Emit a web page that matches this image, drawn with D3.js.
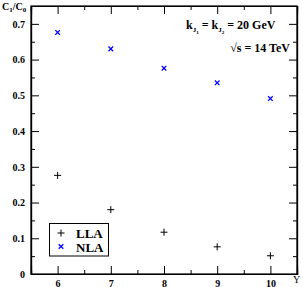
<!DOCTYPE html>
<html>
<head>
<meta charset="utf-8">
<script src="https://cdn.jsdelivr.net/npm/d3@7"></script>
<style>
  body { margin: 0; background: #fff; }
  text { font-family: "Liberation Serif", "DejaVu Serif", serif; font-weight: bold; }
</style>
</head>
<body>
<div id="chart"></div>
<script>
// dữ liệu
const rapidity = [6, 7, 8, 9, 10];
const llaValues = [0.276, 0.180, 0.117, 0.076, 0.051];
const nlaValues = [0.676, 0.630, 0.576, 0.535, 0.491];
const xTickLabels = [6, 7, 8, 9, 10];
const yTickLabels = [0, 0.1, 0.2, 0.3, 0.4, 0.5, 0.6, 0.7];

const W = 303, H = 287;
const margin = { top: 6, right: 6, bottom: 13, left: 31 };
const width = W - margin.left - margin.right;
const height = H - margin.top - margin.bottom;

const svg = d3.select("#chart").append("svg")
    .attr("width", W)
    .attr("height", H);

const g = svg.append("g")
    .attr("transform", `translate(${margin.left},${margin.top})`);

const x = d3.scaleLinear().domain([5.5, 10.5]).range([0, width]);
const y = d3.scaleLinear().domain([0, 0.75]).range([height, 0]);

const majorLen = 8, minorLen = 4;
const xMinor = d3.range(5.5, 10.51, 0.5).filter(v => !Number.isInteger(v));
const yMinor = d3.range(0.05, 0.75, 0.1);

// trục dưới
const xAxis = g.append("g")
    .attr("transform", `translate(0,${height})`)
    .call(d3.axisBottom(x).tickValues(xTickLabels).tickSize(-majorLen).tickPadding(4).tickFormat(d3.format("d")));
xAxis.selectAll("text").style("font-size", "10px").attr("dy", "0.85em");
g.append("g")
    .attr("transform", `translate(0,${height})`)
    .call(d3.axisBottom(x).tickValues(xMinor).tickSize(-minorLen).tickFormat(""));

// trục trên
g.append("g")
    .call(d3.axisTop(x).tickValues(xTickLabels).tickSize(-majorLen).tickFormat(""));
g.append("g")
    .call(d3.axisTop(x).tickValues(xMinor).tickSize(-minorLen).tickFormat(""));

// trục trái
const yAxis = g.append("g")
    .call(d3.axisLeft(y).tickValues(yTickLabels).tickSize(-majorLen).tickPadding(6)
        .tickFormat(d => d === 0 ? "0" : d3.format(".1f")(d)));
yAxis.selectAll("text").style("font-size", "10px");
g.append("g")
    .call(d3.axisLeft(y).tickValues(yMinor).tickSize(-minorLen).tickFormat(""));

// trục phải
g.append("g")
    .attr("transform", `translate(${width},0)`)
    .call(d3.axisRight(y).tickValues(yTickLabels).tickSize(-majorLen).tickFormat(""));
g.append("g")
    .attr("transform", `translate(${width},0)`)
    .call(d3.axisRight(y).tickValues(yMinor).tickSize(-minorLen).tickFormat(""));

g.selectAll(".domain").attr("stroke", "#000").attr("stroke-width", 1.2);
g.selectAll(".tick line").attr("stroke", "#000").attr("stroke-width", 1);

// khung
g.append("rect")
    .attr("width", width).attr("height", height)
    .attr("fill", "none").attr("stroke", "#000").attr("stroke-width", 1.2);

// điểm
const plus = d3.symbol().type(d3.symbolCross).size(1);
function drawPlus(sel, s) {
  sel.append("path")
    .attr("d", `M${-s},0H${s}M0,${-s}V${s}`)
    .attr("stroke", "#000").attr("stroke-width", 1).attr("fill", "none");
}
function drawCross(sel, s, col) {
  sel.append("path")
    .attr("d", `M${-s},${-s}L${s},${s}M${-s},${s}L${s},${-s}`)
    .attr("stroke", col).attr("stroke-width", 1.3).attr("fill", "none");
}

rapidity.forEach((r, i) => {
  const p = g.append("g").attr("transform", `translate(${x(r)},${y(llaValues[i])})`);
  drawPlus(p, 3.5);
  const q = g.append("g").attr("transform", `translate(${x(r)},${y(nlaValues[i])})`);
  drawCross(q, 2.3, "#0000ff");
});

// chú thích
const leg = svg.append("g");
leg.append("rect")
    .attr("x", 49.5).attr("y", 223.5).attr("width", 59).attr("height", 32.5)
    .attr("fill", "#fff").attr("stroke", "#000").attr("stroke-width", 1);
drawPlus(leg.append("g").attr("transform", "translate(61,233)"), 3.5);
drawCross(leg.append("g").attr("transform", "translate(61,246.5)"), 2.3, "#0000ff");
leg.append("text").attr("x", 76).attr("y", 238).style("font-size", "13px").text("LLA");
leg.append("text").attr("x", 76).attr("y", 251.5).style("font-size", "13px").text("NLA");

// nhãn
const yl = svg.append("text").attr("x", 2).attr("y", 10).style("font-size", "10px");
yl.append("tspan").text("C");
yl.append("tspan").attr("dy", 2).style("font-size", "7px").text("1");
yl.append("tspan").attr("dy", -2).text("/C");
yl.append("tspan").attr("dy", 2).style("font-size", "7px").text("0");

svg.append("text").attr("x", 293).attr("y", 283).style("font-size", "10px").style("font-weight", "normal").text("Y");

const k = svg.append("text").attr("x", 186).attr("y", 29).style("font-size", "12px");
k.append("tspan").text("k");
k.append("tspan").attr("dy", 3).style("font-size", "7px").text("J");
k.append("tspan").attr("dy", 2).style("font-size", "5px").text("1");
k.append("tspan").attr("dy", -5).text(" = k");
k.append("tspan").attr("dy", 3).style("font-size", "7px").text("J");
k.append("tspan").attr("dy", 2).style("font-size", "5px").text("2");
k.append("tspan").attr("dy", -5).text(" = 20 GeV");

svg.append("text").attr("x", 290).attr("y", 52).attr("text-anchor", "end")
    .style("font-size", "12px").text("\u221As = 14 TeV");
</script>
</body>
</html>
